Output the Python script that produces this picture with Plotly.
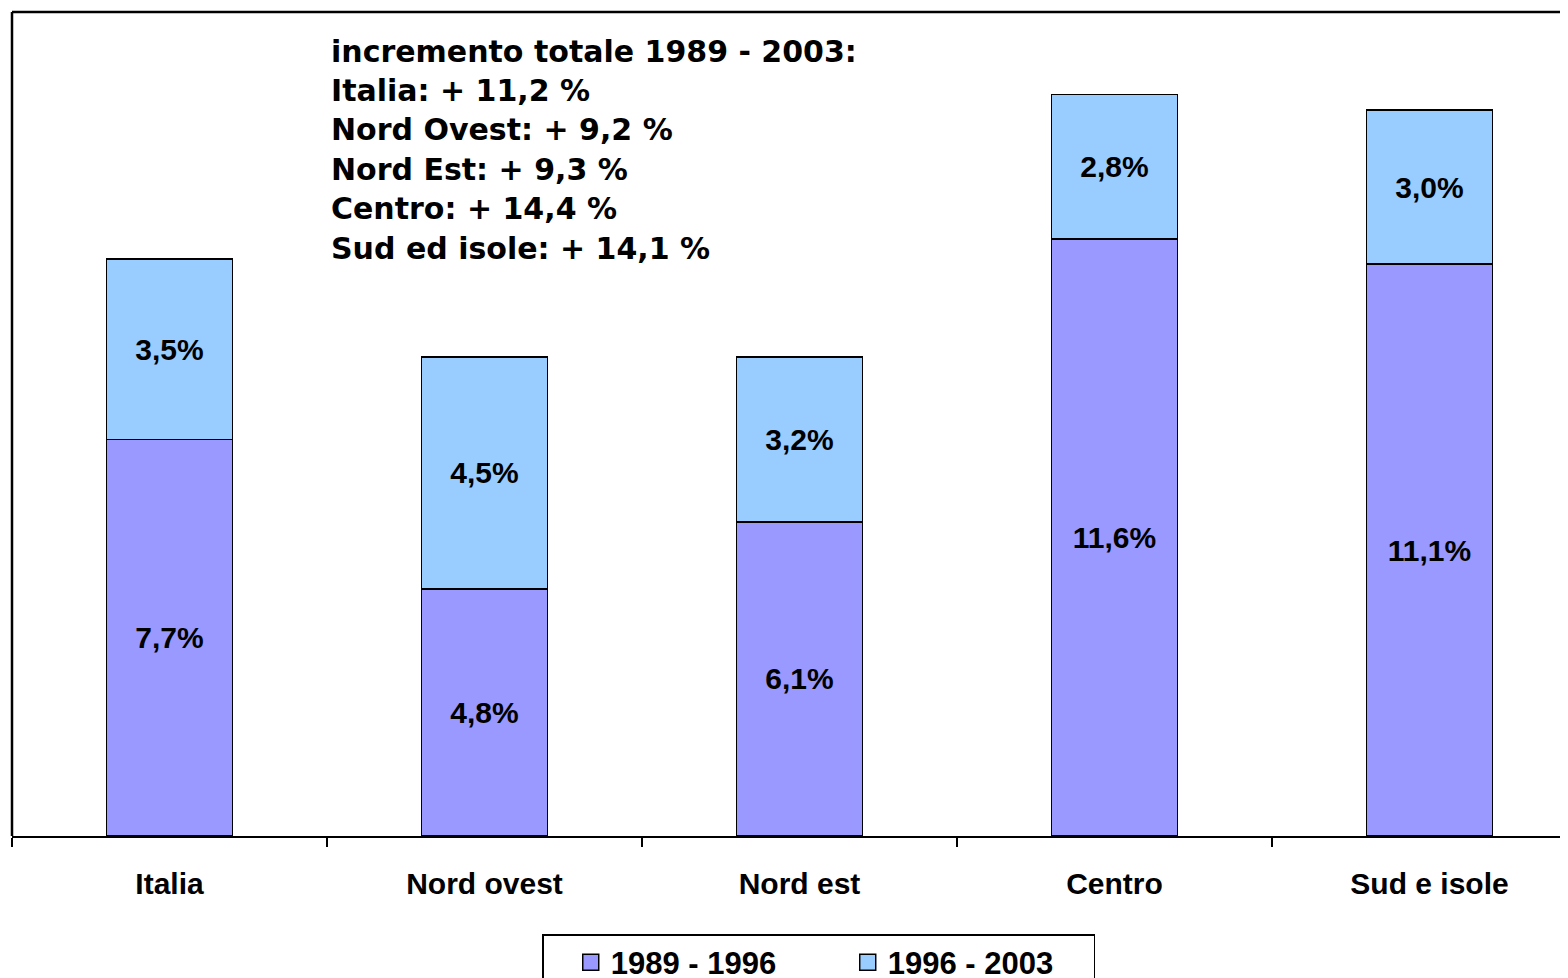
import plotly.graph_objects as go

categories = ["Italia", "Nord ovest", "Nord est", "Centro", "Sud e isole"]
series_names = ["1989 - 1996", "1996 - 2003"]
vals_1989_1996 = [7.7, 4.8, 6.1, 11.6, 11.1]
vals_1996_2003 = [3.5, 4.5, 3.2, 2.8, 3.0]
note_lines = [
    "incremento totale 1989 - 2003:",
    "Italia: + 11,2 %",
    "Nord Ovest: + 9,2 %",
    "Nord Est: + 9,3 %",
    "Centro: + 14,4 %",
    "Sud ed isole: + 14,1 %",
]
colors = ["#9999FF", "#99CCFF"]
legend_pad = ["&nbsp;" * 7 + "\u2009", "&nbsp;" * 4]

OFF = 8  # page body margin
W, H = 1568 - OFF, 978 - OFF
ML, MT, MB, MR = 12 - OFF, 12 - OFF, 142, 0
plot_h = H - MT - MB
plot_w = W - ML - MR
bottom_px = 836  # screen y of plot bottom

def fmt(v):
    return f"{v:.1f}".replace(".", ",") + "%"

bold = dict(family="Liberation Sans, Arial", color="black", weight="bold")

fig = go.Figure()
for name, vals, color in [(series_names[0], vals_1989_1996, colors[0]),
                          (series_names[1], vals_1996_2003, colors[1])]:
    fig.add_trace(go.Bar(
        x=categories, y=vals, name=name, showlegend=False,
        marker=dict(color=color, line=dict(color="black", width=1.8)),
        width=0.4,
        text=[fmt(v) for v in vals], textposition="inside",
        insidetextanchor="middle",
        textfont=dict(size=30, **bold),
        textangle=0,
    ))
# legend entries with larger square swatches
for name, color, pad in zip(series_names, colors, legend_pad):
    fig.add_trace(go.Scatter(
        x=[categories[0]], y=[None], mode="markers", name=name + pad,
        marker=dict(symbol="square", size=18, color=color,
                    line=dict(color="black", width=1.5)),
        hoverinfo="skip",
    ))

annotations = []
y0_px = 51
dy_px = 39.4
for i, line in enumerate(note_lines):
    ypx = y0_px + i * dy_px
    annotations.append(dict(
        xref="paper", yref="paper",
        x=(329 - 12) / plot_w, y=(bottom_px - ypx) / plot_h,
        xanchor="left", yanchor="middle", showarrow=False,
        text=f"<b>{line}</b>",
        font=dict(family="DejaVu Sans", size=30, color="black"),
    ))

fig.update_layout(
    width=W, height=H,
    barmode="stack",
    plot_bgcolor="white", paper_bgcolor="white",
    margin=dict(l=ML, r=MR, t=MT, b=MB, pad=0, autoexpand=False),
    annotations=annotations,
    uniformtext=dict(mode="show", minsize=10),
    showlegend=True,
    legend=dict(
        orientation="h", x=(542 - 12) / plot_w, xanchor="left",
        y=-(934 - bottom_px) / plot_h, yanchor="top",
        traceorder="normal",
        bordercolor="black", borderwidth=1.5, bgcolor="white",
        font=dict(size=31, **bold),
        title=dict(text="&nbsp;&nbsp;", side="left", font=dict(size=31, **bold)),
        itemwidth=30,
    ),
    shapes=[
        dict(type="line", xref="paper", yref="paper", x0=0, x1=1, y0=1, y1=1,
             line=dict(color="black", width=2.5)),
        dict(type="line", xref="paper", yref="paper", x0=0, x1=0, y0=0, y1=1,
             line=dict(color="black", width=2.5)),
    ],
)
fig.update_xaxes(
    range=[-0.5, -0.5 + plot_w / 315],
    showline=True, linecolor="black", linewidth=2,
    ticks="outside", tickson="boundaries", ticklen=9, tickcolor="black", tickwidth=1.5,
    ticklabelstandoff=20,
    tickfont=dict(size=30, **bold),
    showgrid=False, zeroline=False, fixedrange=True,
)
fig.update_yaxes(
    range=[0, plot_h / 51.5], visible=False, showgrid=False, zeroline=False,
)

fig.write_html("out.html")
